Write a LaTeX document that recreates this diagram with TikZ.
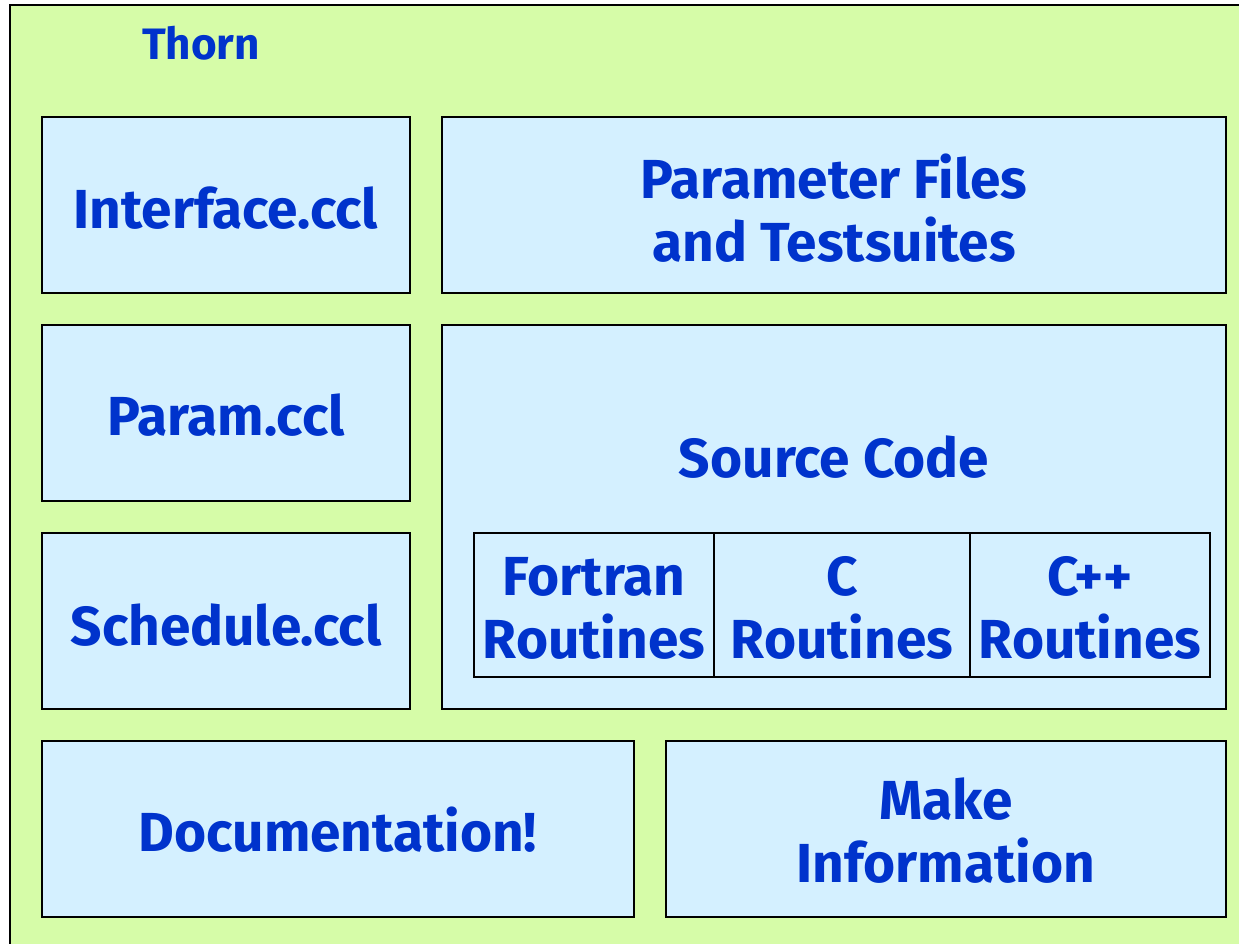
\documentclass[tikz,border=0pt]{standalone}
\usepackage{fontspec}
\setmainfont{Fira Sans}
\definecolor{thorngreen}{RGB}{214,252,168}
\definecolor{boxblue}{RGB}{212,240,255}
\definecolor{textblue}{RGB}{0,51,204}
\tikzset{
  part/.style={draw=black, line width=2pt, fill=boxblue},
  sub/.style={draw=black, line width=1.4pt, fill=boxblue},
  lbl/.style={text=textblue, font=\fontsize{55}{63}\selectfont\bfseries, align=center, inner sep=0pt},
}
\begin{document}
\begin{tikzpicture}[x=1pt,y=-1pt]
\useasboundingbox (0,0) rectangle (1239,944);
\clip (0,0) rectangle (1239,944);
\fill[white] (0,0) rectangle (1239,944);
\draw[line width=2pt, fill=thorngreen] (10,5) rectangle (1280,990);
\node[lbl, font=\fontsize{44}{50}\selectfont\bfseries] (thorn) at (201,43) {Thorn};

\draw[part] (42,117) rectangle (410,293);
\node[lbl] (iface) at (226,208) {Interface.ccl};
\draw[part] (42,325) rectangle (410,501);
\node[lbl] (param) at (226,415) {Param.ccl};
\draw[part] (42,533) rectangle (410,709);
\node[lbl] (sched) at (226,625) {Schedule.ccl};

\draw[part] (442,117) rectangle (1226,293);
\node[lbl] (parfiles) at (834,208) {Parameter Files\\and Testsuites};

\draw[part] (442,325) rectangle (1226,709);
\node[lbl] (src) at (834,457) {Source Code};
\draw[sub] (474,533) rectangle (714,677);
\draw[sub] (714,533) rectangle (970,677);
\draw[sub] (970,533) rectangle (1210,677);
\node[lbl] (fortran) at (594,608) {Fortran\\Routines};
\node[lbl] (cc) at (842,608) {C\\Routines};
\node[lbl] (cpp) at (1090,608) {C++\\Routines};

\draw[part] (42,741) rectangle (634,917);
\node[lbl] (doc) at (338,830) {Documentation!};
\draw[part] (666,741) rectangle (1226,917);
\node[lbl] (make) at (946,831) {Make\\Information};
\end{tikzpicture}
\end{document}
